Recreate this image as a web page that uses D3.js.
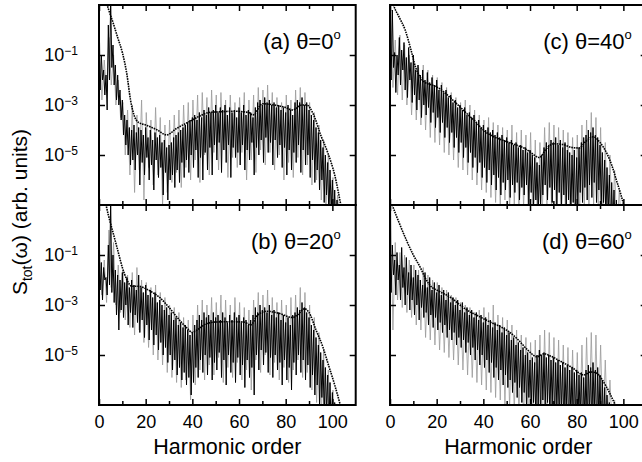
<!DOCTYPE html>
<html>
<head>
<meta charset="utf-8">
<script src="https://cdn.jsdelivr.net/npm/d3@7"></script>
<style>
body { margin: 0; background: #fff; }
text { font-family: "Liberation Sans", Arial, sans-serif; fill: #000; }
</style>
</head>
<body>
<svg id="chart" width="642" height="462"></svg>
<script>
// all spectrum values are log10 of S_tot(w)
// black trace: peaks at harmonic h, dips at h+0.5 ; grey trace at h+0.25  (h = 0..104)
var peaksA = [-1.2,-1.0,-1.6,-1.8,0.2,1.2,-0.6,-1.4,-1.8,-2.4,
  -2.8,-3.4,-3.6,-3.9,-4.0,-3.8,-4.1,-3.9,-4.0,-4.2,
  -3.9,-4.3,-4.0,-4.4,-4.1,-4.3,-4.2,-4.5,-4.4,-4.7,
  -4.6,-4.5,-4.3,-4.2,-4.1,-4.0,-3.9,-3.8,-3.7,-3.6,
  -3.5,-3.4,-3.6,-3.3,-3.5,-3.2,-3.4,-3.1,-3.3,-3.2,
  -3.0,-3.3,-3.1,-3.2,-3.0,-3.4,-3.1,-3.3,-3.2,-3.5,
  -3.1,-3.3,-3.0,-3.4,-3.2,-3.3,-3.5,-3.1,-2.9,-2.8,
  -3.0,-2.7,-2.9,-2.8,-3.0,-2.9,-3.1,-3.0,-3.2,-3.1,
  -3.3,-3.0,-3.2,-3.4,-2.9,-2.8,-2.9,-2.7,-3.0,-2.9,
  -3.2,-3.4,-3.6,-3.9,-4.1,-4.4,-4.7,-5.0,-5.3,-5.6,
  -6.0,-6.4,-6.8,-7.2,-8]
var dipsA = [-2.4,-2.0,-2.6,-3.2,-2.0,-1.5,-2.2,-2.8,-3.0,-3.6,
  -4.2,-4.6,-5.0,-5.4,-5.2,-5.6,-5.0,-6.2,-5.3,-5.8,
  -5.1,-6.0,-5.4,-6.4,-5.2,-5.9,-5.5,-6.6,-5.7,-6.8,
  -6.0,-5.8,-6.3,-5.6,-6.1,-5.3,-5.9,-5.2,-5.7,-5.0,
  -5.5,-4.8,-5.9,-5.1,-6.0,-4.9,-5.6,-4.7,-5.8,-4.6,
  -5.2,-4.5,-5.7,-4.8,-5.3,-4.6,-5.9,-4.7,-5.1,-4.9,
  -5.4,-4.6,-5.6,-4.8,-5.2,-4.5,-5.8,-4.7,-5.0,-4.4,
  -5.3,-4.3,-4.9,-4.5,-5.4,-4.4,-5.1,-4.6,-5.5,-4.7,
  -5.8,-4.8,-5.6,-4.9,-5.3,-4.6,-5.7,-4.8,-5.4,-5.0,
  -5.9,-5.2,-6.1,-5.6,-6.4,-6.0,-6.9,-6.6,-7.5,-7.2,
  -7.8,-8,-8,-8,-8]
var greyA = [-0.5,-2.8,-1.2,-2.5,-0.3,-2.2,-1.0,-3.0,-2.0,-3.5,
  -2.9,-5.0,-3.2,-5.8,-3.0,-6.5,-3.4,-5.6,-2.8,-6.8,
  -3.3,-5.5,-3.6,-6.2,-3.1,-5.8,-3.5,-7.0,-3.8,-6.5,
  -3.6,-6.1,-3.4,-5.7,-3.2,-6.3,-3.0,-5.5,-2.9,-6.0,
  -2.8,-5.2,-2.6,-6.1,-2.5,-5.0,-2.7,-5.8,-2.4,-4.9,
  -2.6,-5.6,-2.5,-4.8,-2.8,-5.9,-2.6,-5.1,-2.9,-5.5,
  -2.7,-4.9,-2.5,-6.0,-2.8,-5.2,-2.6,-5.7,-2.3,-4.8,
  -2.4,-5.4,-2.2,-4.9,-2.5,-5.6,-2.7,-5.0,-2.9,-6.0,
  -2.6,-5.3,-2.8,-5.9,-2.4,-5.1,-2.3,-5.8,-2.5,-5.4,
  -2.9,-6.2,-3.3,-6.0,-3.8,-6.8,-4.4,-7.2,-5.0,-7.8,
  -5.9,-8,-6.6,-8,-8]
var envA = [[0,2.0],[2,1.5],[4,0.85],[6,0.3],[8,-0.3],[10,-0.9],[12,-1.8],[13.5,-2.8],[15,-3.4],[17,-3.7],
  [20,-3.8],[25,-4.0],[29,-4.2],[33,-3.95],[38,-3.7],[43,-3.45],[47,-3.3],[52,-3.27],[58,-3.25],[64,-3.3],
  [66,-3.4],[70,-2.95],[75,-3.0],[80,-3.1],[83,-3.2],[87,-3.0],[89,-3.0],[92,-3.4],[95,-4.2],[98,-4.9],
  [101,-5.8],[104,-7.2]]

var peaksB = [-1.0,-1.3,-1.5,-1.9,-0.6,1.2,-1.0,-1.6,-1.8,-2.0,
  -1.7,-2.1,-1.9,-2.3,-2.0,-2.2,-2.4,-1.8,-2.3,-2.5,
  -2.2,-2.6,-2.4,-2.7,-2.5,-2.9,-2.8,-3.0,-3.2,-3.1,
  -3.4,-3.3,-3.6,-3.5,-3.8,-3.7,-3.9,-3.8,-4.0,-4.2,
  -4.1,-3.8,-3.6,-3.4,-3.6,-3.3,-3.5,-3.4,-3.6,-3.3,
  -3.5,-3.4,-3.6,-3.3,-3.5,-3.7,-3.4,-3.6,-3.3,-3.5,
  -3.4,-3.7,-3.5,-3.6,-3.8,-3.6,-3.4,-3.1,-3.3,-3.0,
  -3.2,-3.1,-3.3,-3.0,-3.4,-3.2,-3.5,-3.3,-3.6,-3.4,
  -3.7,-3.5,-3.8,-3.4,-3.3,-3.1,-3.2,-2.9,-3.1,-3.3,
  -3.5,-3.8,-4.0,-4.3,-4.6,-4.9,-5.2,-5.5,-5.8,-6.1,
  -6.5,-6.9,-7.3,-8,-8]
var dipsB = [-2.4,-2.8,-2.0,-2.6,-2.2,-2.5,-2.9,-3.4,-4.0,-3.2,
  -3.5,-3.0,-3.8,-3.3,-3.9,-3.4,-3.7,-4.1,-3.6,-4.3,
  -3.8,-4.4,-4.0,-4.6,-4.2,-4.8,-4.5,-5.0,-4.7,-5.3,
  -5.0,-5.6,-5.2,-5.8,-5.5,-6.0,-5.7,-6.2,-5.9,-6.6,
  -6.1,-5.5,-5.9,-5.2,-5.7,-5.0,-5.8,-5.1,-6.0,-5.3,
  -5.6,-4.9,-5.9,-5.2,-6.2,-5.0,-5.7,-5.3,-6.1,-5.1,
  -5.8,-5.4,-6.3,-5.2,-5.9,-5.5,-6.6,-5.0,-5.6,-4.8,
  -5.4,-4.9,-5.7,-5.1,-5.9,-5.0,-5.6,-5.3,-6.2,-5.2,
  -6.0,-5.5,-6.4,-5.3,-5.8,-5.0,-5.7,-5.2,-6.0,-5.4,
  -6.3,-5.8,-6.6,-6.2,-7.0,-6.7,-7.5,-7.2,-8,-8,
  -8,-8,-8,-8,-8]
var greyB = [-0.8,-2.6,-1.2,-2.9,0.0,-2.3,-0.5,-3.0,-1.4,-3.3,
  -1.6,-3.6,-1.8,-3.9,-1.7,-4.2,-1.5,-4.0,-2.0,-4.5,
  -2.1,-4.7,-2.3,-5.0,-2.2,-5.2,-2.5,-5.4,-2.7,-5.7,
  -3.0,-5.9,-3.1,-6.1,-3.3,-6.3,-3.5,-6.0,-3.6,-6.8,
  -3.4,-6.2,-3.0,-5.6,-2.8,-6.0,-3.0,-5.4,-2.7,-5.8,
  -2.9,-5.1,-2.6,-6.1,-2.8,-5.5,-3.0,-5.9,-2.7,-5.3,
  -2.9,-6.0,-3.1,-5.6,-3.2,-6.4,-2.8,-5.2,-2.5,-5.7,
  -2.6,-5.0,-2.4,-5.8,-2.7,-5.3,-2.9,-6.0,-2.8,-5.5,
  -3.0,-6.1,-2.7,-5.6,-2.6,-5.2,-2.3,-5.9,-2.5,-5.7,
  -3.0,-6.4,-3.5,-6.9,-4.1,-7.4,-4.8,-8,-5.6,-8,
  -6.4,-8,-7.2,-8,-8]
var envB = [[0,2.0],[2,1.4],[4,0.6],[6,-0.1],[8,-0.8],[10,-1.5],[12,-2.0],[14,-2.25],[17,-2.25],[20,-2.35],
  [23,-2.5],[26,-2.7],[30,-3.1],[34,-3.55],[38,-3.95],[40,-4.1],[42,-4.0],[46,-3.75],[50,-3.68],[56,-3.67],
  [62,-3.68],[65,-3.8],[68,-3.4],[72,-3.25],[77,-3.33],[83,-3.5],[85,-3.4],[88,-3.15],[90,-3.3],[93,-4.0],
  [96,-4.7],[98,-5.3],[101,-6.2],[104,-7.2]]

var peaksC = [-0.6,0.8,-0.9,-1.0,-0.3,-0.8,-0.5,-1.1,-0.7,-1.3,
  -1.0,-1.6,-1.4,-1.8,-1.6,-2.0,-1.7,-2.1,-1.9,-2.2,
  -2.0,-2.4,-2.2,-2.5,-2.4,-2.7,-2.6,-2.9,-2.8,-3.1,
  -3.0,-3.2,-3.1,-3.4,-3.3,-3.5,-3.4,-3.7,-3.6,-3.9,
  -3.8,-4.0,-3.9,-4.1,-4.0,-4.2,-4.1,-4.3,-4.2,-4.4,
  -4.3,-4.5,-4.4,-4.6,-4.5,-4.7,-4.6,-4.8,-4.7,-4.9,
  -4.8,-5.0,-5.1,-5.3,-5.4,-5.0,-4.7,-4.5,-4.6,-4.4,
  -4.5,-4.3,-4.6,-4.4,-4.7,-4.5,-4.8,-4.9,-5.0,-4.8,
  -5.1,-4.7,-4.5,-4.3,-4.2,-4.0,-4.1,-3.9,-4.2,-4.3,
  -4.6,-4.9,-5.2,-5.5,-5.8,-6.1,-6.4,-6.8,-7.2,-8,
  -8,-8,-8,-8,-8]
var dipsC = [-2.0,-1.5,-2.5,-1.8,-2.2,-1.6,-2.4,-2.7,-2.0,-2.9,
  -2.6,-3.2,-2.8,-3.5,-3.0,-3.4,-3.1,-3.7,-3.3,-3.9,
  -3.5,-4.1,-3.7,-4.3,-3.9,-4.5,-4.1,-4.7,-4.3,-4.9,
  -4.5,-5.1,-4.7,-5.3,-4.9,-5.5,-5.1,-5.7,-5.3,-5.9,
  -5.5,-6.1,-5.6,-6.2,-5.8,-6.4,-5.9,-6.6,-6.1,-6.4,
  -6.0,-6.7,-6.2,-6.5,-6.1,-6.8,-6.3,-6.6,-6.2,-7.0,
  -6.5,-7.2,-6.8,-7.5,-7.0,-6.6,-6.2,-6.8,-6.3,-6.9,
  -6.4,-7.0,-6.5,-7.1,-6.6,-7.2,-6.8,-7.4,-6.9,-7.6,
  -7.0,-6.5,-6.9,-6.3,-6.8,-6.2,-6.7,-6.1,-6.9,-6.4,
  -7.2,-6.9,-7.6,-7.4,-8,-8,-8,-8,-8,-8,
  -8,-8,-8,-8,-8]
var greyC = [1.2,-2.3,-0.4,-2.6,-0.2,-2.8,-0.6,-3.0,-1.0,-3.4,
  -1.3,-3.6,-1.5,-3.8,-1.4,-4.0,-1.6,-4.3,-1.8,-4.5,
  -1.9,-4.6,-2.1,-4.9,-2.3,-5.0,-2.5,-5.2,-2.7,-5.5,
  -2.9,-5.6,-2.8,-5.8,-3.0,-6.0,-3.2,-6.2,-3.4,-6.4,
  -3.6,-6.5,-3.5,-6.7,-3.7,-6.9,-3.8,-7.1,-3.9,-6.8,
  -4.0,-7.2,-3.8,-7.0,-4.1,-7.3,-4.0,-7.1,-4.2,-7.5,
  -4.1,-7.8,-4.4,-8,-4.5,-7.4,-3.9,-7.0,-3.7,-7.2,
  -3.8,-7.5,-3.9,-7.3,-4.0,-7.6,-4.1,-7.8,-4.3,-8,
  -4.2,-7.4,-3.8,-7.1,-3.6,-7.3,-3.3,-7.0,-3.5,-7.4,
  -3.9,-7.8,-4.5,-8,-5.0,-8,-5.6,-8,-6.4,-8,
  -7.2,-8,-8,-8,-8]
var envC = [[0,1.5],[1.5,1.0],[4,0.5],[6.5,0.0],[9,-0.8],[11,-1.5],[13,-1.9],[15,-2.1],[18,-2.2],[21,-2.33],
  [24,-2.55],[28,-2.9],[33,-3.35],[37,-3.7],[40,-4.0],[44,-4.25],[48,-4.4],[54,-4.6],[58,-4.75],[61,-4.95],
  [64,-5.1],[67,-4.75],[70,-4.55],[74,-4.58],[78,-4.7],[81,-4.72],[84,-4.45],[87,-4.27],[90,-4.5],[93,-4.95],
  [95,-5.4],[97,-6.0],[99,-6.6],[101,-7.3]]

var peaksD = [-0.8,-0.6,-1.2,-0.9,-1.4,-0.7,-1.5,-1.1,-1.7,-1.4,
  -1.9,-1.6,-1.8,-2.0,-2.2,-1.7,-2.3,-1.9,-2.4,-2.1,
  -2.5,-2.2,-2.6,-2.4,-2.8,-2.5,-2.9,-2.7,-3.0,-2.8,
  -3.2,-2.9,-3.3,-3.1,-3.4,-3.2,-3.5,-3.3,-3.6,-3.4,
  -3.7,-3.5,-3.8,-3.6,-3.9,-3.7,-4.0,-3.8,-4.1,-3.9,
  -4.2,-4.1,-4.4,-4.3,-4.6,-4.5,-4.8,-4.7,-5.0,-4.9,
  -5.2,-5.1,-5.3,-5.0,-4.8,-5.0,-4.9,-5.1,-5.0,-5.2,
  -5.1,-5.3,-5.2,-5.4,-5.3,-5.5,-5.4,-5.6,-5.5,-5.7,
  -5.6,-5.8,-5.7,-5.9,-5.6,-5.4,-5.5,-5.3,-5.6,-5.5,
  -5.8,-6.0,-6.3,-6.6,-6.9,-7.2,-7.6,-8,-8,-8,
  -8,-8,-8,-8,-8]
var dipsD = [-2.5,-1.8,-2.6,-2.0,-2.8,-2.3,-3.0,-2.6,-3.2,-2.8,
  -3.4,-3.0,-3.6,-3.1,-3.5,-3.3,-3.8,-3.4,-3.9,-3.5,
  -4.0,-3.7,-4.1,-3.8,-4.3,-4.0,-4.4,-4.1,-4.6,-4.3,
  -4.7,-4.4,-4.9,-4.5,-5.0,-4.7,-5.2,-4.8,-5.4,-5.0,
  -5.5,-5.2,-5.7,-5.3,-5.9,-5.5,-6.0,-5.6,-6.2,-5.8,
  -6.3,-6.0,-6.5,-6.1,-6.7,-6.3,-6.9,-6.5,-7.1,-6.7,
  -7.3,-6.9,-7.6,-7.0,-7.4,-6.8,-7.2,-6.9,-7.5,-7.0,
  -7.6,-7.1,-7.8,-7.2,-8,-7.3,-8,-7.4,-8,-7.5,
  -8,-7.6,-8,-7.5,-8,-7.4,-8,-7.3,-8,-7.6,
  -8,-8,-8,-8,-8,-8,-8,-8,-8,-8,
  -8,-8,-8,-8,-8]
var greyD = [1.2,-4.0,-0.5,-2.8,-0.9,-3.1,-1.0,-3.3,-1.2,-3.5,
  -1.4,-3.8,-1.6,-4.0,-1.5,-4.3,-1.8,-4.4,-2.0,-4.6,
  -2.1,-4.8,-2.3,-4.9,-2.4,-5.1,-2.6,-5.2,-2.7,-5.4,
  -2.9,-5.6,-3.0,-5.8,-3.1,-5.9,-3.3,-6.1,-3.2,-6.2,
  -3.1,-6.4,-3.3,-6.5,-3.0,-6.7,-3.4,-6.8,-3.5,-7.0,
  -3.6,-7.1,-3.8,-7.3,-4.0,-7.4,-4.2,-7.6,-4.3,-7.7,
  -4.5,-8,-4.4,-8,-4.2,-8,-4.0,-8,-4.1,-8,
  -4.3,-8,-4.4,-8,-4.6,-8,-4.7,-8,-4.8,-8,
  -4.9,-8,-4.6,-8,-4.3,-8,-4.1,-8,-4.2,-8,
  -4.6,-8,-5.2,-8,-6.0,-8,-6.8,-8,-8,-8,
  -8,-8,-8,-8,-8]
var envD = [[0,1.3],[1,1.0],[4,0.27],[7,-0.4],[10,-1.0],[13,-1.5],[15,-1.9],[17,-2.2],[21,-2.45],[26,-2.7],
  [30,-3.0],[33,-3.2],[38,-3.45],[44,-3.73],[48,-3.9],[51,-4.07],[55,-4.4],[59,-4.8],[63,-5.07],[66,-4.95],
  [69,-5.05],[73,-5.25],[78,-5.5],[83,-5.8],[86,-5.68],[88,-5.7],[91,-6.0],[94,-6.5],[97,-7.1]]

var xTicks = [0, 20, 40, 60, 80, 100]
var xMinor = [10, 30, 50, 70, 90]
var yTicks = [1e-1, 1e-3, 1e-5]
var yExp = ["\u22121", "\u22123", "\u22125"]
var labels = ["(a) \u03b8=0", "(b) \u03b8=20", "(c) \u03b8=40", "(d) \u03b8=60"]

var panels = [
  {col: 0, row: 0, peaks: peaksA, dips: dipsA, grey: greyA, env: envA, label: labels[0]},
  {col: 0, row: 1, peaks: peaksB, dips: dipsB, grey: greyB, env: envB, label: labels[1]},
  {col: 1, row: 0, peaks: peaksC, dips: dipsC, grey: greyC, env: envC, label: labels[2]},
  {col: 1, row: 1, peaks: peaksD, dips: dipsD, grey: greyD, env: envD, label: labels[3]}
]

var colX = [99, 390], rowY = [5, 205]
var pw = 256.7, ph = 200

var svg = d3.select("#chart")

panels.forEach(function(p, k) {
  var x0 = colX[p.col], y0 = rowY[p.row]
  var x = d3.scaleLinear().domain([0, 110]).range([x0, x0 + pw])
  var y = d3.scaleLog().domain([1e-7, 10]).range([y0 + ph, y0])

  var g = svg.append("g")
  g.append("clipPath").attr("id", "clip" + k)
    .append("rect").attr("x", x0).attr("y", y0).attr("width", pw).attr("height", ph)

  var plot = g.append("g").attr("clip-path", "url(#clip" + k + ")")
  var line = d3.line().x(function(d) { return x(d[0]) }).y(function(d) { return y(Math.pow(10, d[1])) })

  var black = []
  p.peaks.forEach(function(v, i) { black.push([i, v]); black.push([i + 0.5, p.dips[i]]) })
  var grey = p.grey.map(function(v, i) { return [i + 0.25, v] })

  plot.append("path").attr("d", line(grey))
    .attr("fill", "none").attr("stroke", "#999").attr("stroke-width", 0.8)
  plot.append("path").attr("d", line(black))
    .attr("fill", "none").attr("stroke", "#000").attr("stroke-width", 1)
  plot.append("path").attr("d", line.curve(d3.curveMonotoneX)(p.env))
    .attr("fill", "none").attr("stroke", "#000").attr("stroke-width", 1.6)
    .attr("stroke-dasharray", "1.6,0.9")

  // ticks, pointing inward on all four sides
  g.append("g").attr("transform", "translate(0," + (y0 + ph) + ")")
    .call(d3.axisBottom(x).tickValues(xTicks).tickSize(-6).tickPadding(10)
      .tickFormat(function(d) { return p.row == 1 ? d : "" }))
  g.append("g").attr("transform", "translate(0," + (y0 + ph) + ")")
    .call(d3.axisBottom(x).tickValues(xMinor).tickSize(-4).tickFormat(""))
  g.append("g").attr("transform", "translate(0," + y0 + ")")
    .call(d3.axisTop(x).tickValues(xTicks).tickSize(-6).tickFormat(""))
  g.append("g").attr("transform", "translate(0," + y0 + ")")
    .call(d3.axisTop(x).tickValues(xMinor).tickSize(-4).tickFormat(""))
  var yl = g.append("g").attr("transform", "translate(" + x0 + ",0)")
    .call(d3.axisLeft(y).tickValues(yTicks).tickSize(-6).tickPadding(21).tickFormat(""))
  g.append("g").attr("transform", "translate(" + (x0 + pw) + ",0)")
    .call(d3.axisRight(y).tickValues(yTicks).tickSize(-6).tickFormat(""))

  g.selectAll(".domain").remove()
  g.selectAll(".tick line").attr("stroke", "#000").attr("stroke-width", 1.5)
  g.selectAll(".tick text").attr("font-size", 18).attr("font-family", null)

  if (p.col == 0) {
    yl.selectAll(".tick text").each(function(d, i) {
      var t = d3.select(this).text("10")
      t.append("tspan").attr("dy", "-0.55em").attr("font-size", 12).text(yExp[i])
    })
  }

  g.append("rect").attr("x", x0).attr("y", y0).attr("width", pw).attr("height", ph)
    .attr("fill", "none").attr("stroke", "#000").attr("stroke-width", 2)

  var lab = g.append("text").attr("x", x0 + pw - 15).attr("y", y0 + 44)
    .attr("text-anchor", "end").attr("font-size", 22).text(p.label)
  lab.append("tspan").attr("dy", -10).attr("font-size", 13).text("o")

  if (p.row == 1) {
    g.append("text").attr("x", x0 + pw / 2).attr("y", 454).attr("text-anchor", "middle")
      .attr("font-size", 21.5).text("Harmonic order")
  }
})

var yt = svg.append("text").attr("transform", "translate(27,212) rotate(-90)")
  .attr("text-anchor", "middle").attr("font-size", 21)
yt.append("tspan").text("S")
yt.append("tspan").attr("dy", 5).attr("font-size", 14).text("tot")
yt.append("tspan").attr("dy", -5).text("(\u03c9) (arb. units)")
</script>
</body>
</html>
